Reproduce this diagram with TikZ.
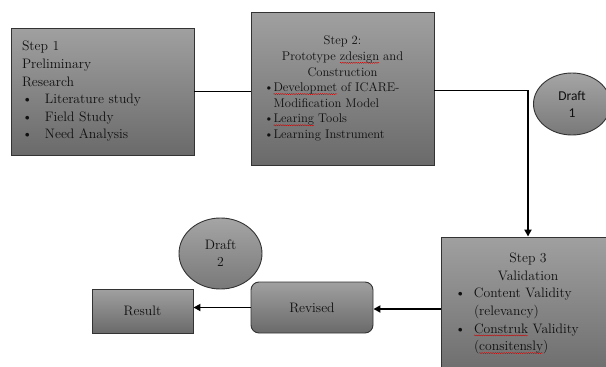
\documentclass[tikz,border=0pt]{standalone}
\usepackage{fontspec}
\newfontfamily\draftfont{Carlito}
\usetikzlibrary{shapes.geometric, arrows.meta, decorations.pathmorphing}

\definecolor{boxtop}{HTML}{A0A0A0}
\definecolor{boxbot}{HTML}{6A6A6A}
\definecolor{boxline}{HTML}{333333}
\definecolor{inkcol}{HTML}{101010}

% bullet with hanging text, continuation indent
\newcommand{\blt}[2]{\makebox[#1][l]{\textbullet}#2}
% spell-check squiggle under a word
\newcommand{\typo}[1]{\setbox0\hbox{#1}\rlap{\tikz[overlay, baseline=0pt]\draw[red!80!black, line width=0.35pt,
  decorate, decoration={snake, amplitude=0.55pt, segment length=2.2pt}] (0pt,-2.4pt) -- (\the\wd0,-2.4pt);}#1}

\tikzset{
  stepbox/.style={draw=boxline, line width=0.9pt, top color=boxtop, bottom color=boxbot,
    text=inkcol, inner sep=0pt},
  draftbub/.style={ellipse, draw=boxline, line width=0.9pt, top color=boxtop!95,
    bottom color=boxbot!90, text=inkcol, inner sep=0pt, font=\draftfont\fontsize{13.5}{17}\selectfont,
    align=center},
  flow/.style={line width=1.8pt, black},
  flowarr/.style={flow, -{Triangle[length=7pt,width=7pt]}}
}

\begin{document}
\begin{tikzpicture}[x=1pt, y=-1pt]
  \useasboundingbox (0,0) rectangle (606,367);
  \clip (0,0) rectangle (606,367);

  % Step 1
  \node[stepbox, minimum width=183pt, minimum height=127pt] (step1) at (102.5, 91.5)
    {\begin{minipage}{161pt}\fontsize{13.7}{17.6}\selectfont\raggedright
      Step 1\\
      Preliminary\\
      Research\\
      \blt{23pt}{Literature study}\\
      \blt{23pt}{Field Study}\\
      \blt{23pt}{Need Analysis}
    \end{minipage}};

  % Step 2
  \node[stepbox, minimum width=183pt, minimum height=153pt] (step2) at (342.5, 88.5)
    {\begin{minipage}{157pt}\fontsize{12.6}{15.6}\selectfont
      {\centering Step 2:\\
      Prototype \typo{zdesign} and\\
      Construction\par}
      \raggedright
      \blt{9.5pt}{\typo{Developmet} of ICARE-}\\
      \hspace*{9.5pt}Modification Model\\
      \blt{9.5pt}{\typo{Learing} Tools}\\
      \blt{9.5pt}{Learning Instrument}
    \end{minipage}};

  % Step 3
  \node[stepbox, minimum width=174pt, minimum height=144pt] (step3) at (528, 309)
    {\begin{minipage}[c][138pt][t]{146pt}\vspace*{13pt}\fontsize{13.7}{17.6}\selectfont
      {\centering Step 3\\
      Validation\par}
      \raggedright
      \blt{19pt}{Content Validity}\\
      \hspace*{19pt}(relevancy)\\
      \blt{19pt}{\typo{Construk} Validity}\\
      \hspace*{19pt}(\typo{consitensly})
    \end{minipage}};

  % Revised / Result
  \node[stepbox, rounded corners=8pt, minimum width=122pt, minimum height=51pt,
    font=\fontsize{13.7}{16}\selectfont] (revised) at (312, 307.5) {Revised};
  \node[stepbox, minimum width=101pt, minimum height=44pt,
    font=\fontsize{13.7}{16}\selectfont] (result) at (142.5, 311) {Result};

  % Drafts
  \node[draftbub, minimum width=77pt, minimum height=62pt] (draft1) at (572, 104) {Draft\\1};
  \node[draftbub, minimum width=83pt, minimum height=71pt,
    font=\fontsize{13.7}{17}\selectfont] (draft2) at (220.5, 253.5) {Draft\\2};

  % Connectors
  \draw[flow] (step1.east) -- (step1.east -| step2.west);
  \draw[flowarr] ([yshift=-2pt]step2.east) -| (step3.north);
  \draw[flowarr] (step3.west) -- (step3.west -| revised.east);
  \draw[flowarr] (revised.west) -- (revised.west -| result.east);
\end{tikzpicture}
\end{document}
